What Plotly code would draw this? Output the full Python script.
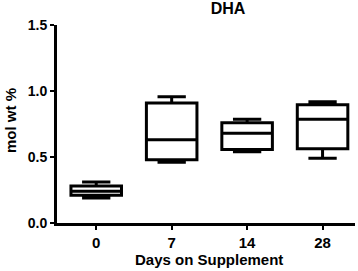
import plotly.graph_objects as go

days = ["0", "7", "14", "28"]
lower = [0.19, 0.46, 0.54, 0.49]
q1 = [0.21, 0.48, 0.557, 0.563]
median = [0.24, 0.63, 0.68, 0.786]
q3 = [0.28, 0.91, 0.76, 0.895]
upper = [0.31, 0.956, 0.786, 0.918]
y_ticks = [0.0, 0.5, 1.0, 1.5]

font_family = "Arial, Liberation Sans, sans-serif"
W, H = 358, 271

fig = go.Figure()
fig.add_trace(go.Box(
    x=[0, 1, 2, 3],
    q1=q1, median=median, q3=q3, lowerfence=lower, upperfence=upper,
    width=0.67,
    whiskerwidth=0.56,
    fillcolor="white",
    line=dict(color="black", width=3),
    boxpoints=False,
    showlegend=False,
    hoverinfo="skip",
))

fig.update_layout(
    width=W, height=H,
    margin=dict(l=57, r=3, t=25, b=48, autoexpand=False),
    paper_bgcolor="white", plot_bgcolor="white",
    title=dict(text="DHA", x=228 / W, xanchor="center", y=1 - 8 / H, yanchor="middle",
               font=dict(family=font_family, size=16, color="black", weight="bold")),
    font=dict(family=font_family, color="black"),
    annotations=[
        dict(text="Days on Supplement", xref="paper", yref="paper",
             x=(209 - 57) / (W - 60), y=-(259 - 223) / (H - 73),
             xanchor="center", yanchor="middle", showarrow=False,
             font=dict(family=font_family, size=15, color="black", weight="bold")),
        dict(text="mol wt %", xref="paper", yref="paper", textangle=-90,
             x=(10 - 57) / (W - 60), y=(223 - 121) / (H - 73),
             xanchor="center", yanchor="middle", showarrow=False,
             font=dict(family=font_family, size=15, color="black", weight="bold")),
    ],
)
fig.update_xaxes(
    range=[-0.52, 3.43], automargin=False,
    tickmode="array", tickvals=[0, 1, 2, 3], ticktext=days,
    showline=True, linecolor="black", linewidth=3,
    ticks="outside", ticklen=4, tickwidth=2, tickcolor="black",
    showgrid=False, zeroline=False,
    tickfont=dict(family=font_family, size=15, color="black", weight="bold"),
)
fig.update_yaxes(
    range=[0, 1.5], automargin=False,
    tickmode="array", tickvals=y_ticks, ticktext=[f"{v:.1f}" for v in y_ticks],
    showline=True, linecolor="black", linewidth=3,
    ticks="outside", ticklen=4, tickwidth=2, tickcolor="black",
    showgrid=False, zeroline=False,
    tickfont=dict(family=font_family, size=14, color="black", weight="bold"),
)

fig.write_html("out.html", config={"displayModeBar": False},
               post_script="document.body.style.margin='0';")
